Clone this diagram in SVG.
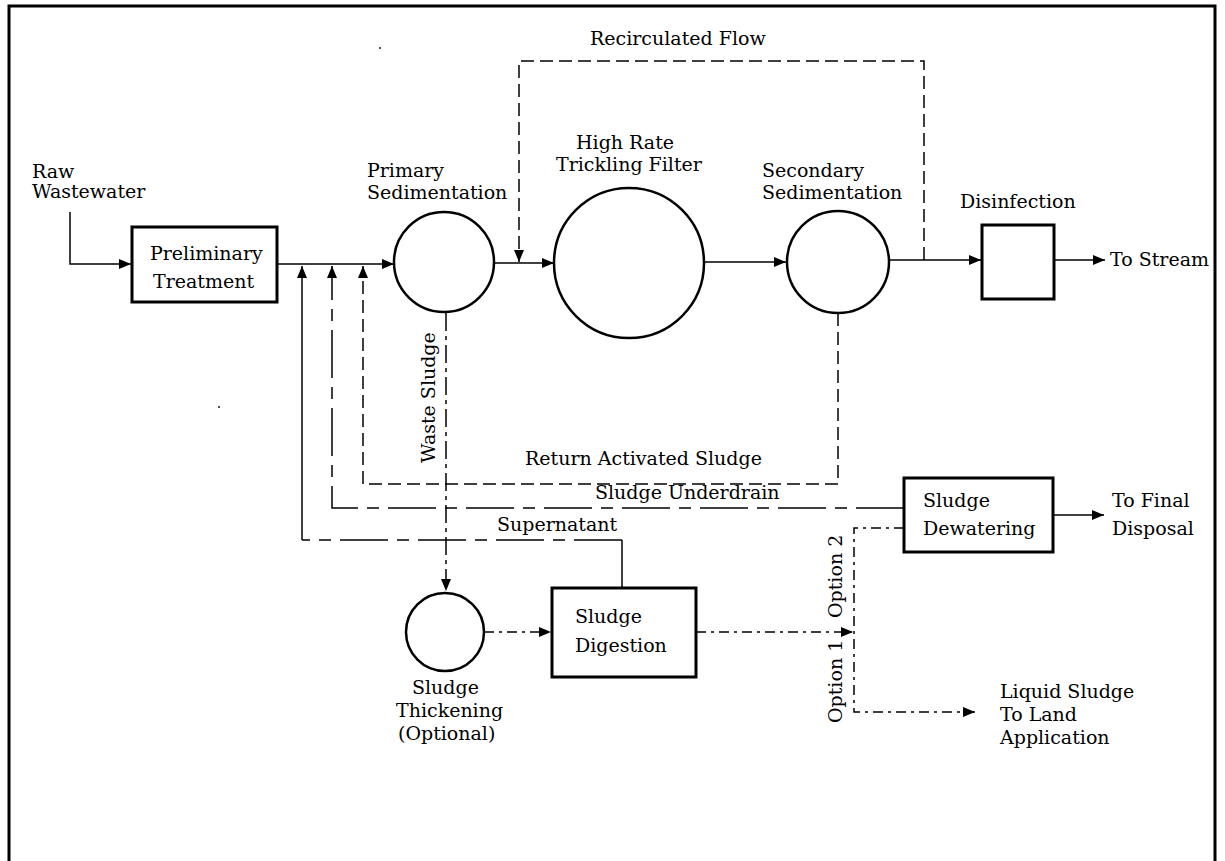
<svg xmlns="http://www.w3.org/2000/svg" width="1225" height="861" viewBox="0 0 1225 861">
<defs>
<marker id="arr" markerUnits="userSpaceOnUse" markerWidth="12" markerHeight="10" refX="12" refY="5" orient="auto">
<path d="M0,0 L12,5 L0,10 z" fill="#000"/>
</marker>
<style>
text{font-family:"DejaVu Serif","Liberation Serif",serif;font-size:19px;fill:#000}
.c{fill:#fff;stroke:#000;stroke-width:2.5}
.b{fill:#fff;stroke:#000;stroke-width:3}
.l{fill:none;stroke:#000;stroke-width:1.5}
.a{marker-end:url(#arr)}
.d{stroke-dasharray:13 6}
.dd{stroke-dasharray:18 5 4 5}
.ld{stroke-dasharray:48 9 12 9}
.sd{stroke-dasharray:10 5 3 5}
</style>
</defs>
<rect width="1225" height="861" fill="#fff"/>
<path d="M9,861 V6 H1215 V861" fill="none" stroke="#000" stroke-width="3"/>
<rect x="379" y="47" width="2" height="2" fill="#555"/>
<rect x="218" y="406" width="2" height="2" fill="#555"/>

<g id="connectors">
<path class="l a" d="M70,212 V264 H131"/>
<path class="l a" d="M278,264 H394"/>
<path class="l a" d="M494,263 H554"/>
<path class="l a" d="M704,262 H786"/>
<path class="l a" d="M889,260 H981"/>
<path class="l a" d="M1054,260 H1105"/>
<path class="l a d" d="M924,260 V61 H519 V262"/>
<path class="l a dd" d="M446,313 V591"/>
<path class="l a d" d="M838,313 V484 H363 V266"/>
<path class="l a ld" d="M904,508 H332 V266"/>
<path class="l" d="M622,588 V540"/>
<path class="l ld" d="M622,540 H302"/>
<path class="l a" d="M302,540 V266"/>
<path class="l a sd" d="M484,632 H551"/>
<path class="l a sd" d="M696,632 H853"/>
<path class="l a sd" d="M904,528 H854 V712 H975"/>
<path class="l a" d="M1053,515 H1104"/>
</g>

<g id="raw-wastewater"><text x="32" y="178">Raw</text><text x="32" y="198">Wastewater</text></g>
<g id="preliminary-treatment"><rect class="b" x="132" y="227" width="145" height="75"/><text x="150" y="260">Preliminary</text><text x="153" y="288">Treatment</text></g>
<g id="primary-sedimentation"><circle class="c" cx="444" cy="262" r="50"/><text x="367" y="177">Primary</text><text x="367" y="199">Sedimentation</text></g>
<g id="recirculated-flow"><text x="590" y="45">Recirculated Flow</text></g>
<g id="trickling-filter"><circle class="c" cx="629" cy="263" r="75"/><text x="576" y="149">High Rate</text><text x="556" y="171">Trickling Filter</text></g>
<g id="secondary-sedimentation"><circle class="c" cx="838" cy="262" r="51"/><text x="762" y="177">Secondary</text><text x="762" y="199">Sedimentation</text></g>
<g id="disinfection"><rect class="b" x="982" y="225" width="72" height="74"/><text x="960" y="208">Disinfection</text></g>
<g id="to-stream"><text x="1110" y="266">To Stream</text></g>
<g id="waste-sludge"><text transform="translate(435,463) rotate(-90)">Waste Sludge</text></g>
<g id="return-activated-sludge"><text x="525" y="465">Return Activated Sludge</text></g>
<g id="sludge-underdrain"><text x="595" y="499">Sludge Underdrain</text></g>
<g id="supernatant"><text x="497" y="531">Supernatant</text></g>
<g id="sludge-dewatering"><rect class="b" x="904" y="478" width="149" height="74"/><text x="923" y="507">Sludge</text><text x="923" y="535">Dewatering</text></g>
<g id="to-final-disposal"><text x="1112" y="507">To Final</text><text x="1112" y="535">Disposal</text></g>
<g id="sludge-thickening"><circle class="c" cx="445" cy="632" r="39"/><text x="412" y="694">Sludge</text><text x="396" y="717">Thickening</text><text x="398" y="740">(Optional)</text></g>
<g id="sludge-digestion"><rect class="b" x="552" y="588" width="144" height="89"/><text x="575" y="623">Sludge</text><text x="575" y="652">Digestion</text></g>
<g id="options"><text transform="translate(842,618) rotate(-90)">Option 2</text><text transform="translate(842,723) rotate(-90)">Option 1</text></g>
<g id="liquid-sludge"><text x="1000" y="698">Liquid Sludge</text><text x="1000" y="721">To Land</text><text x="1000" y="744">Application</text></g>
</svg>
